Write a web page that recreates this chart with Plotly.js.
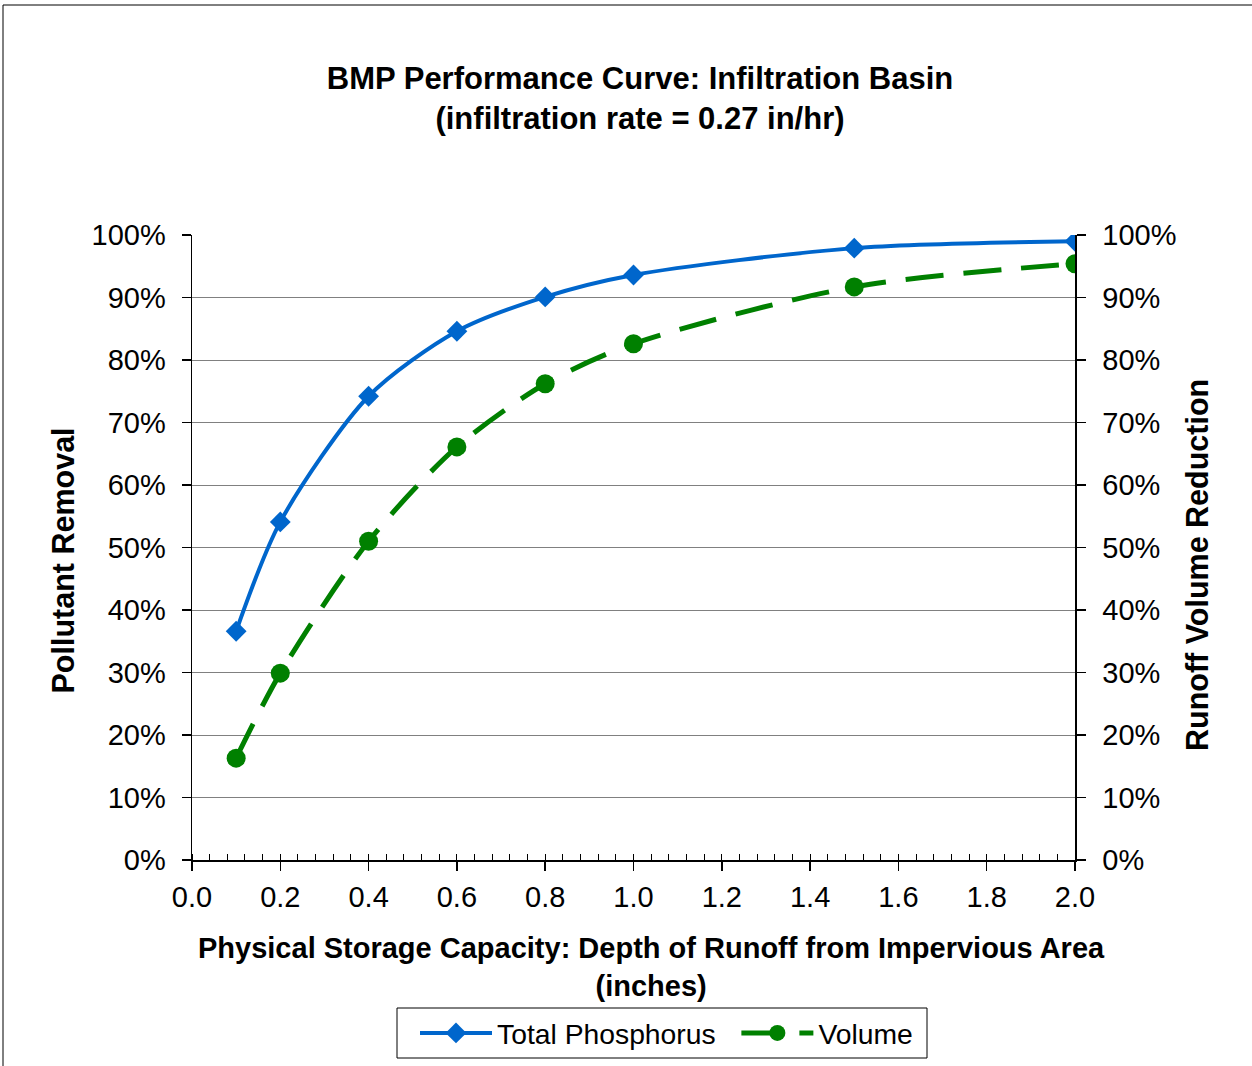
<!DOCTYPE html>
<html>
<head>
<meta charset="utf-8">
<script src="https://cdn.plot.ly/plotly-3.0.1.min.js"></script>
<style>
html,body{margin:0;padding:0;background:#fff;}
#chart{width:1252px;height:1066px;}
</style>
</head>
<body>
<div id="chart"></div>
<script>
// Data
const depthInches = [0.1, 0.2, 0.4, 0.6, 0.8, 1.0, 1.5, 2.0];
const totalPhosphorus = [0.366, 0.541, 0.742, 0.846, 0.901, 0.936, 0.979, 0.990];
const volumeReduction = [0.163, 0.299, 0.510, 0.661, 0.762, 0.826, 0.917, 0.954];
const seriesNames = ["Total Phosphorus", "Volume"];
const titleText = "BMP Performance Curve: Infiltration Basin<br>(infiltration rate = 0.27 in/hr)";
const xTitleText = "Physical Storage Capacity: Depth of Runoff from Impervious Area<br>(inches)";
const yTitleLeft = "Pollutant Removal";
const yTitleRight = "Runoff Volume Reduction";

const sans = '"Liberation Sans", Arial, sans-serif';
const NB = '\u00a0';

const traces = [
  {
    x: depthInches, y: totalPhosphorus, name: seriesNames[0] + NB + NB,
    type: 'scatter', mode: 'lines+markers',
    line: {color: '#0066CC', width: 4, shape: 'spline', smoothing: 0.8},
    marker: {symbol: 'diamond', size: 16, color: '#0066CC'},
    yaxis: 'y'
  },
  {
    x: depthInches, y: volumeReduction, name: seriesNames[1],
    type: 'scatter', mode: 'lines+markers',
    line: {color: '#008000', width: 5, shape: 'spline', smoothing: 0.8, dash: '38px,20px'},
    marker: {symbol: 'circle', size: 19, color: '#008000'},
    yaxis: 'y2'
  }
];

const W = 883, H = 625, L = 192, T = 235;
const px = v => (v - L) / W;
const py = v => (T + H - v) / H;

const layout = {
  width: 1252, height: 1066,
  paper_bgcolor: '#ffffff', plot_bgcolor: '#ffffff',
  margin: {l: 192, r: 177, t: 235, b: 206},
  showlegend: true,
  font: {family: sans, color: '#000000', size: 29},
  title: {
    text: titleText,
    font: {family: sans, size: 31, color: '#000', weight: 'bold'},
    x: 640/1252, xref: 'container', xanchor: 'center',
    y: 1 - 89/1066, yref: 'container', yanchor: 'middle'
  },
  xaxis: {
    range: [0, 2.0], dtick: 0.2, tick0: 0, tickformat: '.1f',
    showgrid: false, zeroline: false,
    showline: true, linecolor: '#000', linewidth: 1.5,
    ticks: 'outside', ticklen: 9, tickwidth: 1.5, tickcolor: '#000',
    ticklabelstandoff: 2,
    minor: {ticks: 'inside', dtick: 0.04, ticklen: 6, tickwidth: 1, tickcolor: '#000', showgrid: false},
    tickfont: {family: sans, size: 29, color: '#000'},
    automargin: false
  },
  yaxis: {
    range: [0, 1.0], dtick: 0.1, tickformat: '.0%',
    showgrid: true, gridcolor: '#808080', gridwidth: 1,
    zeroline: false,
    showline: true, linecolor: '#000', linewidth: 1.5,
    ticks: 'outside', ticklen: 9, tickwidth: 1.5, tickcolor: '#000',
    ticklabelstandoff: 10,
    tickfont: {family: sans, size: 29, color: '#000'},
    automargin: false
  },
  yaxis2: {
    range: [0, 1.0], dtick: 0.1, tickformat: '.0%',
    overlaying: 'y', side: 'right',
    showgrid: false, zeroline: false,
    showline: true, linecolor: '#000', linewidth: 1.5,
    ticks: 'outside', ticklen: 9, tickwidth: 1.5, tickcolor: '#000',
    ticklabelstandoff: 11,
    tickfont: {family: sans, size: 29, color: '#000'},
    automargin: false
  },
  annotations: [
    {text: '<b>' + xTitleText.replace('<br>', '</b><br><b>') + '</b>', showarrow: false,
     xref: 'paper', yref: 'paper', x: px(651), y: py(967), xanchor: 'center', yanchor: 'middle',
     font: {family: sans, size: 29, color: '#000'}},
    {text: '<b>' + yTitleLeft + '</b>', textangle: -90, showarrow: false,
     xref: 'paper', yref: 'paper', x: px(62), y: py(560.5), xanchor: 'center', yanchor: 'middle',
     font: {family: sans, size: 30.5, color: '#000'}},
    {text: '<b>' + yTitleRight + '</b>', textangle: -90, showarrow: false,
     xref: 'paper', yref: 'paper', x: px(1197), y: py(565), xanchor: 'center', yanchor: 'middle',
     font: {family: sans, size: 30.5, color: '#000'}}
  ],
  legend: {
    orientation: 'h',
    x: 415/1252, xref: 'container', xanchor: 'left',
    y: 1 - 1008/1066, yref: 'container', yanchor: 'top',
    borderwidth: 0, bgcolor: 'rgba(0,0,0,0)',
    font: {family: sans, size: 28.3, color: '#000'},
    itemwidth: 72
  },
  shapes: [
    {type: 'line', xref: 'paper', yref: 'paper', x0: px(3), x1: px(1252), y0: py(5), y1: py(5), line: {color: '#000', width: 1}},
    {type: 'line', xref: 'paper', yref: 'paper', x0: px(3), x1: px(3), y0: py(5), y1: py(1066), line: {color: '#000', width: 1}},
    {type: 'rect', xref: 'paper', yref: 'paper', x0: px(397), x1: px(927), y0: py(1008), y1: py(1058), line: {color: '#000', width: 1}, fillcolor: 'rgba(0,0,0,0)'}
  ]
};

Plotly.newPlot('chart', traces, layout, {displayModeBar: false, staticPlot: true});
</script>
</body>
</html>
